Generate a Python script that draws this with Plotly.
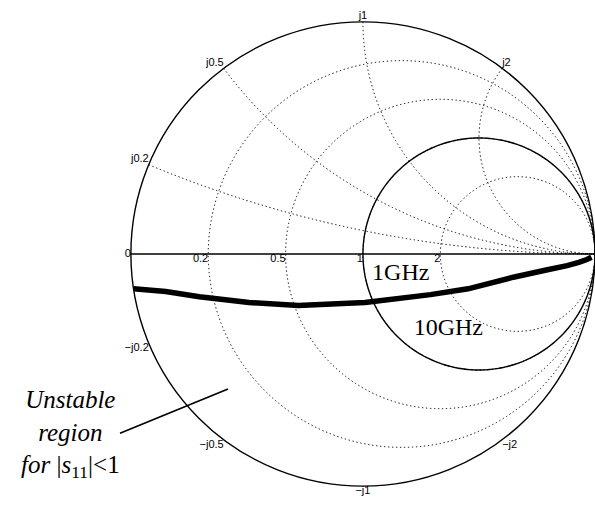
import numpy as np
import plotly.graph_objects as go

# Grid values of the Smith chart
real_grid = [0.2, 0.5, 1, 2]
imag_grid = [0.2, 0.5, 1, 2]

# Tick labels
real_labels = ["0", "0.2", "0.5", "1", "2"]
real_label_vals = [0, 0.2, 0.5, 1, 2]
imag_label_vals = [0.2, 0.5, 1, 2, -0.2, -0.5, -1, -2]
imag_labels = ["j0.2", "j0.5", "j1", "j2", "\u2212j0.2", "\u2212j0.5", "\u2212j1", "\u2212j2"]

# Locus, as reflection coefficient (Gamma) values
gamma_re = [-0.988, -0.85, -0.705, -0.491, -0.278, 0.009, 0.291, 0.453, 0.648, 0.795, 0.880, 0.930, 0.965, 0.985]
gamma_im = [-0.150, -0.162, -0.184, -0.209, -0.222, -0.209, -0.175, -0.150, -0.100, -0.068, -0.050, -0.036, -0.024, -0.014]
# thin second branch of the locus close to the open-circuit point
gamma2_re = [0.800, 0.880, 0.940, 0.980]
gamma2_im = [-0.072, -0.056, -0.038, -0.020]

# Stability circle (Gamma plane): centre and radius
stab_center = 0.5
stab_radius = 0.5

def to_z(g):
    g = np.asarray(g, dtype=complex)
    return (1 + g) / (1 - g)

z_curve = to_z(np.array(gamma_re) + 1j * np.array(gamma_im))
z_curve2 = to_z(np.array(gamma2_re) + 1j * np.array(gamma2_im))

th = np.linspace(0.001, 2 * np.pi - 0.001, 400)
z_stab = to_z(stab_center + stab_radius * np.exp(1j * th))

tick_font = dict(family="Liberation Sans", size=11, color="black")
serif = dict(family="Liberation Serif", size=24, color="black")

fig = go.Figure()
fig.add_trace(go.Scattersmith(real=z_stab.real, imag=z_stab.imag, mode="lines",
                              line=dict(color="black", width=1.4), hoverinfo="skip"))
fig.add_trace(go.Scattersmith(real=z_curve.real, imag=z_curve.imag, mode="lines",
                              line=dict(color="black", width=5.5), hoverinfo="skip"))
fig.add_trace(go.Scattersmith(real=z_curve2.real, imag=z_curve2.imag, mode="lines",
                              line=dict(color="black", width=1.5), hoverinfo="skip"))

# real-axis labels
fig.add_trace(go.Scattersmith(real=real_label_vals, imag=[0] * len(real_label_vals), mode="text",
                              text=real_labels,
                              textposition=["middle left"] + ["bottom left"] * (len(real_labels) - 1),
                              textfont=tick_font, hoverinfo="skip"))
# imaginary-axis labels
pos = []
for v in imag_label_vals:
    vert = "top" if v > 0 else "bottom"
    if abs(v) < 1:
        hor = "left"
    elif abs(v) == 1:
        hor = "center"
    else:
        hor = "right"
    pos.append(vert + " " + hor)
fig.add_trace(go.Scattersmith(real=[0] * len(imag_label_vals), imag=imag_label_vals, mode="text",
                              text=imag_labels, textposition=pos, textfont=tick_font, hoverinfo="skip"))

# frequency labels
freq_text = ["1GHz", "10GHz"]
freq_gamma = [0.163 - 0.085j, 0.368 - 0.322j]
z_freq = to_z(freq_gamma)
fig.add_trace(go.Scattersmith(real=z_freq.real, imag=z_freq.imag, mode="text", text=freq_text,
                              textposition="middle center", textfont=serif, hoverinfo="skip"))

fig.add_annotation(xref="paper", yref="paper", x=70 / 595, y=1 - 434 / 508,
                   text="<i>Unstable</i><br><i>region</i><br><i>for</i> |<i>s</i><sub>11</sub>|&lt;1",
                   showarrow=False, font=dict(family="Liberation Serif", size=25, color="black"),
                   align="center", xanchor="center", yanchor="middle")
fig.add_annotation(xref="paper", yref="paper", x=228 / 595, y=1 - 389 / 508,
                   ax=-110, ay=45, text=".", font=dict(size=1, color="white"),
                   showarrow=True, arrowhead=0, arrowwidth=1.7,
                   arrowcolor="black", standoff=0, startstandoff=0)

dot = "1.3px,2.7px"
fig.update_layout(
    width=595, height=508,
    margin=dict(l=0, r=0, t=0, b=0),
    paper_bgcolor="white",
    showlegend=False,
    smith=dict(
        domain=dict(x=[0.22, 1.0], y=[0.03, 0.97]),
        bgcolor="white",
        realaxis=dict(tickvals=real_grid, griddash=dot, gridcolor="black", gridwidth=1.2,
                      linecolor="black", linewidth=1.4, showticklabels=False, ticks=""),
        imaginaryaxis=dict(tickvals=imag_grid, griddash=dot, gridcolor="black", gridwidth=1.2,
                           linecolor="black", linewidth=1.4, showticklabels=False, ticks=""),
    ),
)
fig.write_html("out.html")
